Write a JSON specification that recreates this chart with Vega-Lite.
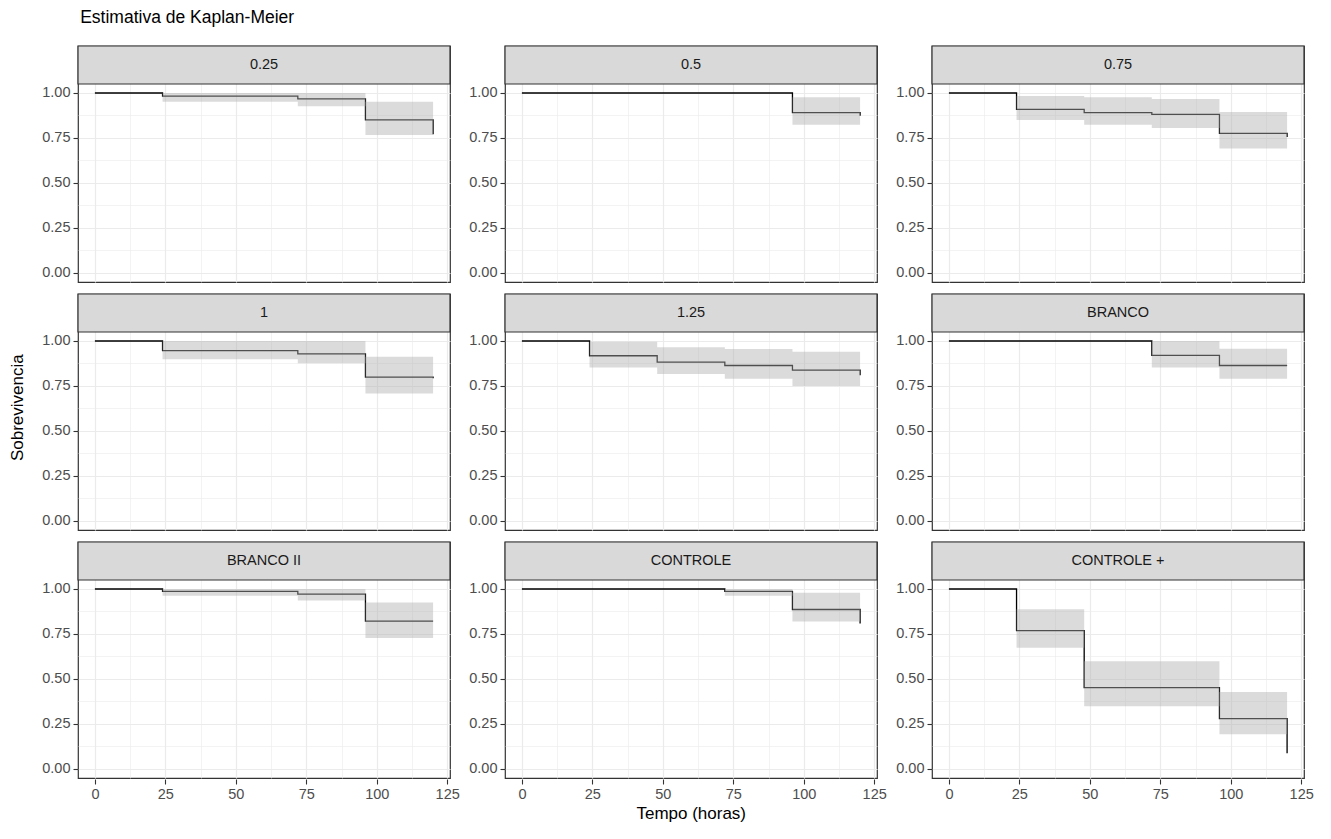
{
  "$schema": "https://vega.github.io/schema/vega-lite/v6.json",
  "background": "white",
  "padding": {"left": 9, "top": 9, "right": 10, "bottom": 4},
  "config": {
    "font": "Liberation Sans",
    "view": {"stroke": "#333333", "strokeWidth": 1.2}
  },
  "title": {
    "text": "Estimativa de Kaplan-Meier",
    "anchor": "start",
    "fontSize": 17.5,
    "fontWeight": "normal",
    "color": "black",
    "offset": 17,
    "dx": 71
  },
  "vconcat": [
    {
      "title": {
        "text": "Sobrevivencia",
        "orient": "left",
        "anchor": "middle",
        "fontSize": 17,
        "fontWeight": "normal",
        "color": "black",
        "offset": 14,
        "dx": 25
      },
      "vconcat": [
        {
          "title": {
            "text": "Tempo (horas)",
            "orient": "bottom",
            "anchor": "middle",
            "fontSize": 17,
            "fontWeight": "normal",
            "color": "black",
            "offset": 5,
            "dx": 14
          },
          "data": {
            "values": [
              {"grupo": "0.25", "tempo": 0, "surv": 1, "inf": 1, "sup": 1},
              {"grupo": "0.25", "tempo": 24, "surv": 0.983, "inf": 0.952, "sup": 1},
              {"grupo": "0.25", "tempo": 72, "surv": 0.967, "inf": 0.926, "sup": 1},
              {"grupo": "0.25", "tempo": 96, "surv": 0.851, "inf": 0.766, "sup": 0.952},
              {"grupo": "0.25", "tempo": 120, "surv": 0.771, "inf": 0.68, "sup": 0.87},

              {"grupo": "0.5", "tempo": 0, "surv": 1, "inf": 1, "sup": 1},
              {"grupo": "0.5", "tempo": 96, "surv": 0.891, "inf": 0.824, "sup": 0.976},
              {"grupo": "0.5", "tempo": 120, "surv": 0.874, "inf": 0.8, "sup": 0.95},

              {"grupo": "0.75", "tempo": 0, "surv": 1, "inf": 1, "sup": 1},
              {"grupo": "0.75", "tempo": 24, "surv": 0.909, "inf": 0.85, "sup": 0.983},
              {"grupo": "0.75", "tempo": 48, "surv": 0.891, "inf": 0.824, "sup": 0.976},
              {"grupo": "0.75", "tempo": 72, "surv": 0.881, "inf": 0.806, "sup": 0.967},
              {"grupo": "0.75", "tempo": 96, "surv": 0.776, "inf": 0.691, "sup": 0.894},
              {"grupo": "0.75", "tempo": 120, "surv": 0.756, "inf": 0.67, "sup": 0.87},

              {"grupo": "1", "tempo": 0, "surv": 1, "inf": 1, "sup": 1},
              {"grupo": "1", "tempo": 24, "surv": 0.946, "inf": 0.898, "sup": 1},
              {"grupo": "1", "tempo": 72, "surv": 0.929, "inf": 0.877, "sup": 1},
              {"grupo": "1", "tempo": 96, "surv": 0.799, "inf": 0.708, "sup": 0.912},
              {"grupo": "1", "tempo": 120, "surv": 0.793, "inf": 0.7, "sup": 0.905},

              {"grupo": "1.25", "tempo": 0, "surv": 1, "inf": 1, "sup": 1},
              {"grupo": "1.25", "tempo": 24, "surv": 0.918, "inf": 0.853, "sup": 0.996},
              {"grupo": "1.25", "tempo": 48, "surv": 0.883, "inf": 0.816, "sup": 0.965},
              {"grupo": "1.25", "tempo": 72, "surv": 0.864, "inf": 0.79, "sup": 0.955},
              {"grupo": "1.25", "tempo": 96, "surv": 0.838, "inf": 0.75, "sup": 0.94},
              {"grupo": "1.25", "tempo": 120, "surv": 0.81, "inf": 0.72, "sup": 0.92},

              {"grupo": "BRANCO", "tempo": 0, "surv": 1, "inf": 1, "sup": 1},
              {"grupo": "BRANCO", "tempo": 72, "surv": 0.92, "inf": 0.853, "sup": 1},
              {"grupo": "BRANCO", "tempo": 96, "surv": 0.864, "inf": 0.79, "sup": 0.957},
              {"grupo": "BRANCO", "tempo": 120, "surv": 0.864, "inf": 0.79, "sup": 0.957},

              {"grupo": "BRANCO II", "tempo": 0, "surv": 1, "inf": 1, "sup": 1},
              {"grupo": "BRANCO II", "tempo": 24, "surv": 0.987, "inf": 0.962, "sup": 1},
              {"grupo": "BRANCO II", "tempo": 72, "surv": 0.972, "inf": 0.936, "sup": 1},
              {"grupo": "BRANCO II", "tempo": 96, "surv": 0.822, "inf": 0.728, "sup": 0.925},
              {"grupo": "BRANCO II", "tempo": 120, "surv": 0.822, "inf": 0.728, "sup": 0.925},

              {"grupo": "CONTROLE", "tempo": 0, "surv": 1, "inf": 1, "sup": 1},
              {"grupo": "CONTROLE", "tempo": 72, "surv": 0.987, "inf": 0.962, "sup": 1},
              {"grupo": "CONTROLE", "tempo": 96, "surv": 0.886, "inf": 0.82, "sup": 0.979},
              {"grupo": "CONTROLE", "tempo": 120, "surv": 0.809, "inf": 0.73, "sup": 0.9},

              {"grupo": "CONTROLE +", "tempo": 0, "surv": 1, "inf": 1, "sup": 1},
              {"grupo": "CONTROLE +", "tempo": 24, "surv": 0.769, "inf": 0.674, "sup": 0.887},
              {"grupo": "CONTROLE +", "tempo": 48, "surv": 0.452, "inf": 0.349, "sup": 0.598},
              {"grupo": "CONTROLE +", "tempo": 96, "surv": 0.28, "inf": 0.193, "sup": 0.428},
              {"grupo": "CONTROLE +", "tempo": 120, "surv": 0.088, "inf": 0.03, "sup": 0.25}
            ]
          },
          "facet": {
            "field": "grupo",
            "type": "nominal",
            "sort": ["0.25", "0.5", "0.75", "1", "1.25", "BRANCO", "BRANCO II", "CONTROLE", "CONTROLE +"],
            "title": null,
            "header": {"labelExpr": "''", "labelFontSize": 1, "labelPadding": 0, "title": null, "titlePadding": 0}
          },
          "columns": 3,
          "spacing": {"row": 8, "column": 16},
          "resolve": {"axis": {"y": "independent"}},
          "spec": {
            "width": 372,
            "height": 236,
            "encoding": {
              "x": {
                "field": "tempo",
                "type": "quantitative",
                "scale": {"domain": [-6, 126], "nice": false, "zero": false},
                "axis": {
                  "title": null,
                  "values": [0, 12.5, 25, 37.5, 50, 62.5, 75, 87.5, 100, 112.5, 125],
                  "labelExpr": "datum.value % 25 === 0 ? format(datum.value, 'd') : ''",
                  "domain": false,
                  "grid": true,
                  "gridColor": "#EBEBEB",
                  "gridWidth": {"condition": {"test": "datum.value % 25 !== 0", "value": 0.6}, "value": 1.2},
                  "ticks": true,
                  "tickColor": "#333333",
                  "tickSize": 5,
                  "tickWidth": 1.1,
                  "tickOpacity": {"condition": {"test": "datum.value % 25 !== 0", "value": 0}, "value": 1},
                  "labelColor": "#4D4D4D",
                  "labelFontSize": 14.5,
                  "labelPadding": 3
                }
              },
              "y": {
                "type": "quantitative",
                "scale": {"domain": [-0.05, 1.2611], "nice": false, "zero": false},
                "axis": {
                  "title": null,
                  "values": [0, 0.125, 0.25, 0.375, 0.5, 0.625, 0.75, 0.875, 1],
                  "labelExpr": "(datum.value * 4) % 1 === 0 ? format(datum.value, '.2f') : ''",
                  "domain": false,
                  "grid": true,
                  "gridColor": "#EBEBEB",
                  "gridWidth": {"condition": {"test": "(datum.value * 4) % 1 !== 0", "value": 0.6}, "value": 1.2},
                  "ticks": true,
                  "tickColor": "#333333",
                  "tickSize": 5,
                  "tickWidth": 1.1,
                  "tickOpacity": {"condition": {"test": "(datum.value * 4) % 1 !== 0", "value": 0}, "value": 1},
                  "labelColor": "#4D4D4D",
                  "labelFontSize": 14.5,
                  "labelPadding": 3
                }
              }
            },
            "layer": [
              {
                "mark": {"type": "line", "interpolate": "step-after", "color": "black", "strokeWidth": 1.3},
                "encoding": {
                  "y": {"field": "surv", "type": "quantitative"}
                }
              },
              {
                "mark": {"type": "area", "interpolate": "step-after", "color": "#B0B0B0", "opacity": 0.45},
                "encoding": {
                  "y": {"field": "inf", "type": "quantitative"},
                  "y2": {"field": "sup"}
                }
              },
              {
                "transform": [{"filter": "datum.tempo === 0"}],
                "mark": {"type": "rect", "fill": "#D9D9D9", "stroke": "#333333", "strokeWidth": 1.2},
                "encoding": {
                  "x": {"datum": -6},
                  "x2": {"datum": 126},
                  "y": {"datum": 1.05},
                  "y2": {"datum": 1.2611}
                }
              },
              {
                "transform": [{"filter": "datum.tempo === 0"}],
                "mark": {"type": "text", "fontSize": 14.5, "color": "#1A1A1A", "align": "center", "baseline": "middle"},
                "encoding": {
                  "x": {"datum": 60},
                  "y": {"datum": 1.1556},
                  "text": {"field": "grupo", "type": "nominal"}
                }
              }
            ]
          }
        }
      ]
    }
  ]
}
